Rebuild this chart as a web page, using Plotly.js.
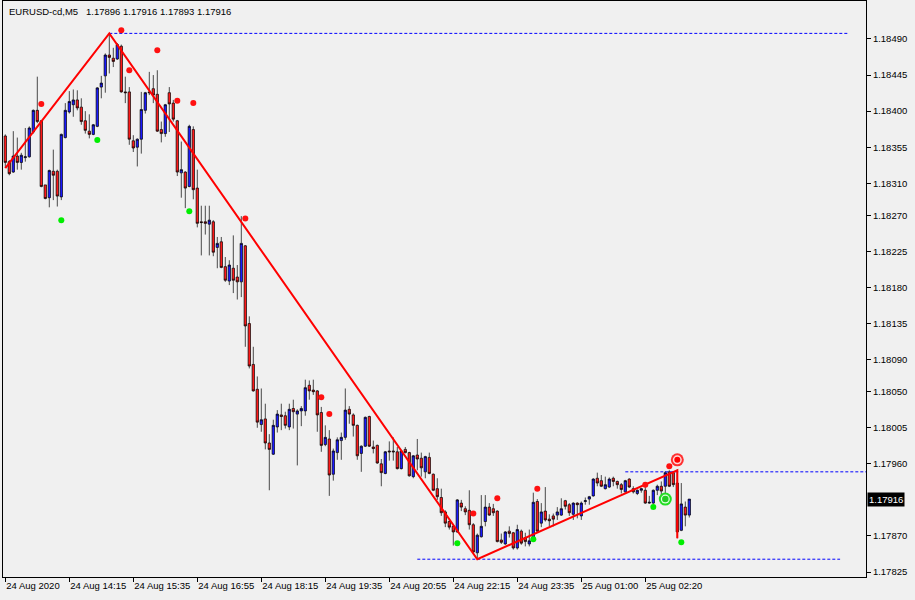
<!DOCTYPE html>
<html>
<head>
<meta charset="utf-8">
<script src="https://cdn.plot.ly/plotly-3.0.1.min.js"></script>
<style>
  html, body { margin: 0; padding: 0; background: #f0f0f0; }
  #chart { width: 915px; height: 600px; }
</style>
</head>
<body>
<div id="chart"></div>
<script>
// ---- Data (EURUSD-cd, M5) ----
const titleText = 'EURUSD-cd,M5\u00a0\u00a0 1.17896 1.17916 1.17893 1.17916';

const open = [
1.18369,1.18337,1.18324,1.18344,1.18336,1.18342,1.18343,1.18374,1.18401,1.18388,
1.18308,1.18292,1.18325,1.18325,1.18293,1.18367,1.18399,1.18408,1.18414,1.18405,
1.18388,1.18375,1.18371,1.18381,1.18430,1.18444,1.18470,1.18466,1.18465,1.18481,
1.18424,1.18424,1.18363,1.18355,1.18365,1.18401,1.18424,1.18428,1.18421,1.18377,
1.18372,1.18423,1.18410,1.18388,1.18323,1.18324,1.18306,1.18377,1.18304,1.18262,
1.18262,1.18259,1.18262,1.18230,1.18237,1.18206,1.18188,1.18204,1.18193,1.18187,
1.18232,1.18135,1.18084,1.18053,1.18009,1.18016,1.17986,1.17972,1.18006,1.18021,
1.18020,1.18006,1.18029,1.18022,1.18026,1.18026,1.18058,1.18052,1.18051,1.18024,
1.17984,1.17991,1.17947,1.17974,1.17989,1.17993,1.18028,1.18021,1.18008,1.17973,
1.17982,1.18019,1.17981,1.17983,1.17960,1.17948,1.17976,1.17976,1.17975,1.17954,
1.17978,1.17974,1.17944,1.17971,1.17967,1.17950,1.17968,1.17947,1.17929,1.17918,
1.17900,1.17888,1.17882,1.17875,1.17911,1.17904,1.17902,1.17884,1.17849,1.17869,
1.17888,1.17906,1.17904,1.17901,1.17865,1.17860,1.17876,1.17874,1.17855,1.17876,
1.17868,1.17860,1.17865,1.17913,1.17886,1.17901,1.17891,1.17895,1.17896,1.17896,
1.17914,1.17909,1.17897,1.17911,1.17895,1.17913,1.17916,1.17920,1.17942,1.17939,
1.17929,1.17931,1.17942,1.17938,1.17934,1.17925,1.17941,1.17929,1.17923,1.17927,
1.17927,1.17911,1.17911,1.17927,1.17932,1.17932,1.17950,1.17949,1.17936,1.17877,
1.17906,1.17896];

const high = [
1.18371,1.18339,1.18375,1.18367,1.18348,1.18379,1.18381,1.18402,1.18443,1.18389,
1.18308,1.18327,1.18352,1.18327,1.18372,1.18410,1.18425,1.18427,1.18426,1.18416,
1.18400,1.18396,1.18384,1.18430,1.18444,1.18472,1.18497,1.18479,1.18485,1.18483,
1.18443,1.18430,1.18370,1.18366,1.18424,1.18424,1.18449,1.18445,1.18451,1.18387,
1.18409,1.18430,1.18414,1.18389,1.18362,1.18325,1.18383,1.18381,1.18327,1.18282,
1.18282,1.18282,1.18264,1.18243,1.18243,1.18218,1.18214,1.18245,1.18208,1.18269,
1.18233,1.18144,1.18106,1.18069,1.18054,1.18035,1.17997,1.18015,1.18027,1.18035,
1.18025,1.18035,1.18040,1.18028,1.18032,1.18065,1.18064,1.18065,1.18052,1.18031,
1.18008,1.18002,1.17979,1.17993,1.17999,1.18054,1.18032,1.18023,1.18009,1.17983,
1.18019,1.18020,1.17989,1.17984,1.17966,1.17976,1.17988,1.17993,1.17981,1.17977,
1.17981,1.17975,1.17971,1.17991,1.17974,1.17970,1.17974,1.17948,1.17942,1.17929,
1.17902,1.17890,1.17885,1.17916,1.17915,1.17907,1.17927,1.17886,1.17873,1.17921,
1.17921,1.17911,1.17910,1.17902,1.17873,1.17876,1.17882,1.17875,1.17884,1.17878,
1.17874,1.17878,1.17924,1.17916,1.17911,1.17931,1.17897,1.17898,1.17906,1.17917,
1.17915,1.17911,1.17912,1.17912,1.17913,1.17918,1.17920,1.17942,1.17949,1.17946,
1.17944,1.17943,1.17944,1.17939,1.17936,1.17940,1.17942,1.17932,1.17928,1.17930,
1.17936,1.17920,1.17928,1.17934,1.17938,1.17951,1.17952,1.17951,1.17953,1.17936,
1.17913,1.17916];

const low = [
1.18329,1.18320,1.18323,1.18327,1.18327,1.18337,1.18342,1.18372,1.18385,1.18305,
1.18290,1.18280,1.18289,1.18281,1.18289,1.18366,1.18397,1.18393,1.18401,1.18383,
1.18372,1.18366,1.18370,1.18380,1.18416,1.18423,1.18447,1.18455,1.18464,1.18423,
1.18410,1.18358,1.18349,1.18331,1.18347,1.18397,1.18420,1.18410,1.18374,1.18361,
1.18368,1.18374,1.18387,1.18319,1.18292,1.18279,1.18305,1.18290,1.18255,1.18220,
1.18246,1.18220,1.18219,1.18204,1.18204,1.18187,1.18183,1.18173,1.18165,1.18168,
1.18106,1.18079,1.18050,1.18005,1.18000,1.17978,1.17927,1.17971,1.17999,1.18002,
1.18004,1.18002,1.18004,1.17958,1.18007,1.18020,1.18040,1.18046,1.18000,1.17975,
1.17982,1.17920,1.17939,1.17965,1.17965,1.17990,1.18010,1.17994,1.17965,1.17950,
1.17981,1.17981,1.17973,1.17960,1.17932,1.17947,1.17964,1.17964,1.17953,1.17953,
1.17973,1.17944,1.17942,1.17952,1.17944,1.17942,1.17947,1.17926,1.17915,1.17895,
1.17881,1.17878,1.17858,1.17874,1.17901,1.17896,1.17878,1.17849,1.17841,1.17868,
1.17882,1.17895,1.17895,1.17862,1.17860,1.17859,1.17868,1.17853,1.17853,1.17859,
1.17857,1.17857,1.17864,1.17875,1.17881,1.17888,1.17882,1.17882,1.17890,1.17895,
1.17903,1.17895,1.17890,1.17892,1.17890,1.17909,1.17909,1.17919,1.17932,1.17931,
1.17928,1.17930,1.17932,1.17929,1.17923,1.17924,1.17930,1.17923,1.17921,1.17924,
1.17910,1.17910,1.17910,1.17921,1.17921,1.17917,1.17931,1.17931,1.17867,1.17876,
1.17882,1.17893];

const close = [
1.18336,1.18322,1.18344,1.18336,1.18345,1.18343,1.18379,1.18401,1.18387,1.18306,
1.18291,1.18326,1.18320,1.18294,1.18371,1.18401,1.18412,1.18414,1.18404,1.18387,
1.18376,1.18371,1.18383,1.18429,1.18435,1.18470,1.18467,1.18462,1.18483,1.18424,
1.18423,1.18365,1.18354,1.18365,1.18402,1.18423,1.18423,1.18420,1.18375,1.18372,
1.18408,1.18409,1.18390,1.18324,1.18327,1.18304,1.18381,1.18302,1.18260,1.18261,
1.18260,1.18264,1.18224,1.18235,1.18205,1.18189,1.18208,1.18189,1.18187,1.18235,
1.18132,1.18082,1.18051,1.18012,1.18015,1.17986,1.17978,1.18008,1.18022,1.18019,
1.18008,1.18028,1.18025,1.18026,1.18029,1.18055,1.18051,1.18050,1.18021,1.17983,
1.17993,1.17946,1.17976,1.17990,1.17993,1.18027,1.18022,1.18008,1.17970,1.17982,
1.18018,1.17982,1.17979,1.17961,1.17949,1.17975,1.17975,1.17975,1.17954,1.17976,
1.17974,1.17945,1.17970,1.17966,1.17955,1.17969,1.17948,1.17927,1.17919,1.17899,
1.17886,1.17881,1.17875,1.17915,1.17906,1.17900,1.17884,1.17850,1.17871,1.17882,
1.17906,1.17896,1.17899,1.17863,1.17862,1.17875,1.17873,1.17855,1.17878,1.17861,
1.17863,1.17864,1.17912,1.17876,1.17900,1.17890,1.17889,1.17891,1.17900,1.17904,
1.17907,1.17899,1.17911,1.17909,1.17911,1.17914,1.17919,1.17941,1.17936,1.17932,
1.17934,1.17941,1.17938,1.17934,1.17928,1.17939,1.17931,1.17925,1.17927,1.17929,
1.17911,1.17912,1.17927,1.17932,1.17926,1.17949,1.17932,1.17934,1.17875,1.17910,
1.17896,1.17916];

const xTickLabels = ['24 Aug 2020','24 Aug 14:15','24 Aug 15:35','24 Aug 16:55','24 Aug 18:15',
  '24 Aug 19:35','24 Aug 20:55','24 Aug 22:15','24 Aug 23:35','25 Aug 01:00','25 Aug 02:20'];
const barsPerXTick = 16;

const yTickLabels = ['1.18490','1.18445','1.18400','1.18355','1.18310','1.18270','1.18225','1.18180',
  '1.18135','1.18090','1.18050','1.18005','1.17960','1.17870','1.17825'];
const lastPrice = 1.17916;

// fractal-type dots
const redDotBars   = [9, 29, 31, 38, 43, 47, 60, 79, 81, 117, 123, 133, 160, 166];
const redDotPrices = [1.18409,1.18501,1.18451,1.18476,1.18413,1.18410,1.18266,1.18043,1.18022,1.17898,1.17917,1.17929,1.17934,1.17957];
const greenDotBars   = [14, 23, 46, 113, 132, 162, 169];
const greenDotPrices = [1.18264,1.18364,1.18275,1.17861,1.17866,1.17906,1.17862];

// zigzag
const zigzagBars   = [0, 26, 118, 168, 168];
const zigzagPrices = [1.18329, 1.18497, 1.17841, 1.17952, 1.17867];

// dashed horizontal levels
const levelPrices    = [1.18497, 1.17950, 1.17841];
const levelStartBars = [26, 155, 103];
const levelEndBars   = [210.7, 215.2, 208.7];

// signal rings
const redRingBar = 168,  redRingPrice = 1.17965;
const greenRingBar = 165, greenRingPrice = 1.17916;

// ---- Build chart ----
const FONT = 'Liberation Sans, Arial, sans-serif';
const bars = open.map((_, i) => i);

const traces = [];
traces.push({
  type: 'candlestick', x: bars, open: open, high: high, low: low, close: close,
  increasing: { line: { color: '#000000', width: 0.7 }, fillcolor: '#1a1aff' },
  decreasing: { line: { color: '#000000', width: 0.7 }, fillcolor: '#ff1a1a' },
  whiskerwidth: 0, hoverinfo: 'skip', showlegend: false
});

levelPrices.forEach((p, k) => {
  traces.push({
    type: 'scatter', mode: 'lines', x: [levelStartBars[k], levelEndBars[k]], y: [p, p],
    line: { color: '#0000ff', width: 1, dash: '3px,2px' }, hoverinfo: 'skip', showlegend: false
  });
});

traces.push({
  type: 'scatter', mode: 'lines', x: zigzagBars, y: zigzagPrices,
  line: { color: '#ff0000', width: 2 }, hoverinfo: 'skip', showlegend: false
});

traces.push({
  type: 'scatter', mode: 'markers', x: redDotBars, y: redDotPrices,
  marker: { color: '#ff1010', size: 6, line: { width: 0 } }, hoverinfo: 'skip', showlegend: false
});
traces.push({
  type: 'scatter', mode: 'markers', x: greenDotBars, y: greenDotPrices,
  marker: { color: '#00ee00', size: 6, line: { width: 0 } }, hoverinfo: 'skip', showlegend: false
});

// rings (layered markers)
[[13, '#ff3030'], [9, '#ffd8d8'], [6, '#ff0000']].forEach(([s, c]) => {
  traces.push({ type: 'scatter', mode: 'markers', x: [redRingBar], y: [redRingPrice],
    marker: { color: c, size: s, line: { width: 0 } }, hoverinfo: 'skip', showlegend: false });
});
[[13, '#22dd22'], [9, '#ddffdd'], [6.5, '#22cc22']].forEach(([s, c]) => {
  traces.push({ type: 'scatter', mode: 'markers', x: [greenRingBar], y: [greenRingPrice],
    marker: { color: c, size: s, line: { width: 0 } }, hoverinfo: 'skip', showlegend: false });
});

const layout = {
  width: 915, height: 600,
  paper_bgcolor: '#f0f0f0', plot_bgcolor: '#f0f0f0',
  margin: { l: 3, r: 49, t: 1, b: 23 },
  font: { family: FONT, size: 9.5, color: '#000000' },
  showlegend: false,
  boxgap: 0.15,
  title: {
    text: titleText, xref: 'container', yref: 'container',
    x: 9 / 915, xanchor: 'left', y: 1 - 12 / 600, yanchor: 'middle',
    font: { family: FONT, size: 9.5, color: '#000000' }
  },
  xaxis: {
    type: 'linear', range: [-0.575, 215.175],
    rangeslider: { visible: false },
    tickvals: xTickLabels.map((_, k) => k * barsPerXTick),
    ticktext: xTickLabels,
    tickangle: 0,
    ticks: 'outside', ticklen: 4, tickcolor: '#000000', tickwidth: 1,
    ticklabelposition: 'outside right',
    tickfont: { family: FONT, size: 9.5, color: '#000000' },
    showline: true, linecolor: '#000000', linewidth: 1, mirror: true,
    showgrid: false, zeroline: false, fixedrange: true
  },
  yaxis: {
    side: 'right', range: [1.178188, 1.185374],
    tickvals: yTickLabels.map(Number), ticktext: yTickLabels,
    ticks: 'outside', ticklen: 4, tickcolor: '#000000', tickwidth: 1,
    tickfont: { family: FONT, size: 9.5, color: '#000000' },
    showline: true, linecolor: '#000000', linewidth: 1, mirror: true,
    showgrid: false, zeroline: false, fixedrange: true
  },
  annotations: [{
    xref: 'paper', x: 1, xanchor: 'left', xshift: 1,
    yref: 'y', y: lastPrice, yanchor: 'middle',
    text: lastPrice.toFixed(5), showarrow: false,
    font: { family: FONT, size: 9.5, color: '#ffffff' },
    bgcolor: '#000000', borderpad: 1
  }]
};

Plotly.newPlot('chart', traces, layout, { staticPlot: true, displayModeBar: false });
</script>
</body>
</html>
